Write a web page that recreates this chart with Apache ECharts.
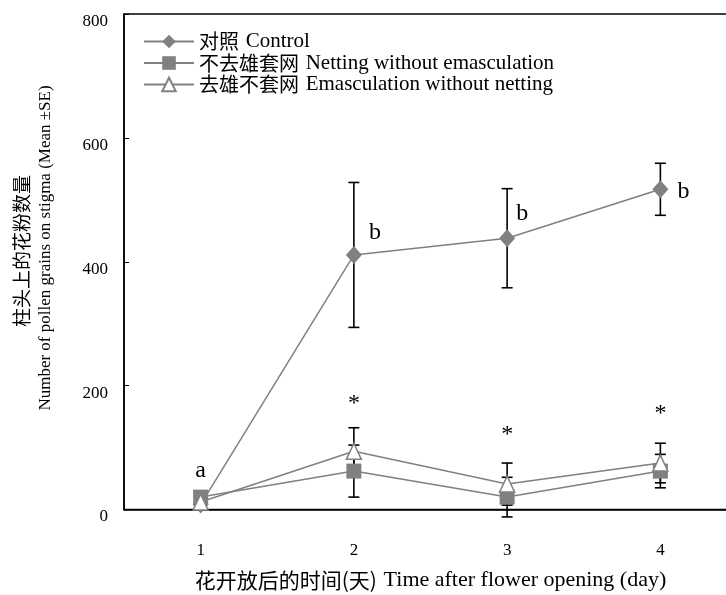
<!DOCTYPE html>
<html>
<head>
<meta charset="utf-8">
<script src="https://cdn.jsdelivr.net/npm/echarts@6/dist/echarts.min.js"></script>
<style>
  html, body { margin: 0; padding: 0; background: #fff; }
  #main { width: 726px; height: 595px; }
</style>
</head>
<body>
<div id="main"></div>
<script>
// 数据
const days = ["1", "2", "3", "4"];
const controlMean = [8, 411, 438, 517];
const controlSE = [0, 117, 80, 42];
const nettingMean = [20, 62, 20, 62];
const nettingSE = [0, 42, 32, 27];
const emascMean = [12, 94, 41, 75];
const emascSE = [0, 38, 34, 32];
const controlLetters = ["", "b", "b", "b"];
const nettingLetters = ["a", "", "", ""];
const starMarks = ["", "*", "*", "*"];
const seriesNames = ["对照 Control", "不去雄套网 Netting without emasculation", "去雄不套网 Emasculation without netting"];
const yMin = 0, yMax = 800, yStep = 200;

const serif = '"Liberation Serif", "Times New Roman", serif';
const cjk = '"Noto Sans CJK SC", sans-serif';
const gray = "#808080";

// 字母标注的偏移
const controlOffsets = [[0, 0], [21, -22], [15, -25], [23, 2]];

const chart = echarts.init(document.getElementById("main"));

// 误差线
function errorSeries(mean, se) {
  return {
    type: "custom",
    z: 1,
    silent: true,
    data: mean.map((m, i) => [i, m - se[i], m + se[i], se[i]]),
    renderItem: function (params, api) {
      if (api.value(3) <= 0) return null;
      const lo = api.coord([api.value(0), api.value(1)]);
      const hi = api.coord([api.value(0), api.value(2)]);
      const w = 5.5;
      const style = { stroke: "#000", lineWidth: 1.6 };
      return {
        type: "group",
        children: [
          { type: "line", shape: { x1: hi[0], y1: hi[1], x2: lo[0], y2: lo[1] }, style },
          { type: "line", shape: { x1: hi[0] - w, y1: hi[1], x2: hi[0] + w, y2: hi[1] }, style },
          { type: "line", shape: { x1: lo[0] - w, y1: lo[1], x2: lo[0] + w, y2: lo[1] }, style },
        ],
      };
    },
  };
}

function withLabels(values, texts, offsets, fontSize) {
  return values.map((v, i) => {
    if (!texts[i]) return v;
    return {
      value: v,
      label: {
        show: true,
        position: "inside",
        formatter: texts[i],
        offset: offsets[i],
        color: "#000",
        fontFamily: serif,
        fontSize: fontSize,
      },
    };
  });
}

const option = {
  animation: false,
  backgroundColor: "#fff",
  grid: {
    left: 124,
    top: 14,
    width: 613,
    height: 495.5,
    outerBoundsMode: "none",
    show: true,
    borderColor: "#000",
    borderWidth: 1.5,
  },
  legend: {
    left: 138,
    top: 26,
    orient: "vertical",
    itemWidth: 50,
    itemHeight: 17,
    itemGap: 0.5,
    data: seriesNames,
    formatter: function (name) {
      const k = name.indexOf(" ");
      return "{cn|" + name.slice(0, k) + "}  {en|" + name.slice(k + 1) + "}";
    },
    textStyle: {
      color: "#000",
      padding: [0, 0, 0, 0],
      rich: {
        cn: { fontFamily: cjk, fontSize: 20, color: "#000", lineHeight: 21 },
        en: { fontFamily: serif, fontSize: 21, color: "#000", lineHeight: 21 },
      },
    },
  },
  xAxis: {
    type: "category",
    data: days,
    boundaryGap: true,
    axisLine: { lineStyle: { color: "#000", width: 1.5 } },
    axisTick: {
      inside: true,
      length: 5,
      interval: 0,
      lineStyle: { color: "#000", width: 1 },
    },
    axisLabel: { color: "#000", fontFamily: serif, fontSize: 17, margin: 33 },
    splitLine: { show: false },
    name: "{cn|花开放后的时间(天)}  {en|Time after flower opening (day)}",
    nameLocation: "middle",
    nameGap: 60,
    nameTextStyle: {
      rich: {
        cn: { fontFamily: cjk, fontSize: 21, color: "#000" },
        en: { fontFamily: serif, fontSize: 22, color: "#000" },
      },
    },
  },
  yAxis: {
    type: "value",
    min: yMin,
    max: yMax,
    interval: yStep,
    axisLine: { show: true, lineStyle: { color: "#000", width: 1.5 } },
    axisTick: { show: true, inside: true, length: 5, lineStyle: { color: "#000", width: 1 } },
    axisLabel: {
      color: "#000",
      fontFamily: serif,
      fontSize: 17,
      margin: 16,
      verticalAlign: "top",
      lineHeight: 15,
    },
    splitLine: { show: false },
  },
  graphic: [
    {
      type: "text",
      x: 22,
      y: 251,
      rotation: Math.PI / 2,
      style: { text: "柱头上的花粉数量", font: '19px "Noto Sans CJK SC"', fill: "#000", align: "center", verticalAlign: "middle" },
    },
    {
      type: "text",
      x: 46,
      y: 248,
      rotation: Math.PI / 2,
      style: { text: "Number of pollen grains on stigma (Mean ±SE)", font: '17px "Liberation Serif"', fill: "#000", align: "center", verticalAlign: "middle" },
    },
  ],
  series: [
    errorSeries(controlMean, controlSE),
    errorSeries(nettingMean, nettingSE),
    errorSeries(emascMean, emascSE),
    {
      name: seriesNames[0],
      type: "line",
      z: 3,
      data: withLabels(controlMean, controlLetters, controlOffsets, 24),
      symbol: "diamond",
      symbolSize: [16, 18],
      lineStyle: { color: gray, width: 1.5 },
      itemStyle: { color: gray, borderWidth: 0 },
    },
    {
      name: seriesNames[1],
      type: "line",
      z: 4,
      data: withLabels(nettingMean, nettingLetters, [[0, -26], 0, 0, 0], 24),
      symbol: "rect",
      symbolSize: 15,
      lineStyle: { color: gray, width: 1.5 },
      itemStyle: { color: gray, borderWidth: 0 },
    },
    {
      name: seriesNames[2],
      type: "line",
      z: 5,
      data: withLabels(emascMean, starMarks, [0, [0, -48], [0, -49], [0, -49]], 24),
      symbol: "triangle",
      symbolSize: [15, 16],
      lineStyle: { color: gray, width: 1.5 },
      itemStyle: { color: "#fff", borderColor: gray, borderWidth: 1.5 },
    },
  ],
};

chart.setOption(option);
</script>
</body>
</html>
